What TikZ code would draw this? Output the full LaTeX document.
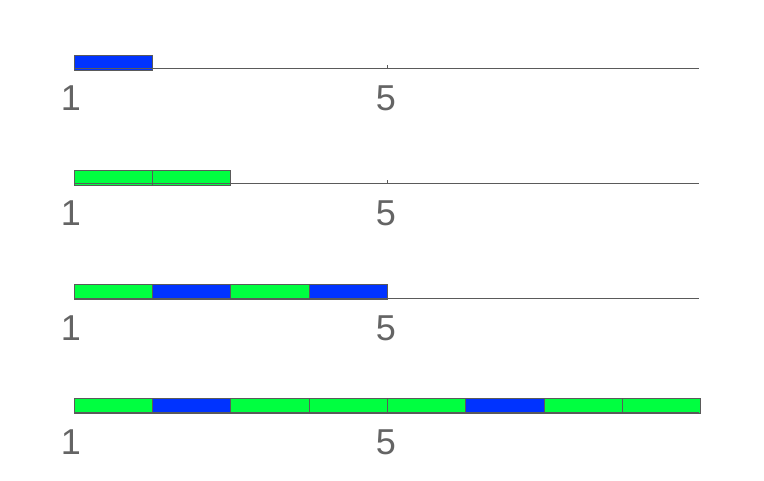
\documentclass[tikz,border=0pt]{standalone}
\usepackage{fontspec}
\setmainfont{Liberation Sans}
\definecolor{bargreen}{RGB}{0,255,64}
\definecolor{barblue}{RGB}{0,51,255}
\definecolor{axgray}{RGB}{90,90,90}
\definecolor{txtgray}{RGB}{100,100,100}
\tikzset{
  gbar/.style={draw=axgray, line width=0.9pt, fill=bargreen},
  bbar/.style={draw=axgray, line width=0.9pt, fill=barblue},
  axline/.style={draw=axgray, line width=1pt},
  ticklabel/.style={text=txtgray, font=\fontsize{36}{36}\selectfont, inner sep=0pt, anchor=base}
}
\begin{document}
\begin{tikzpicture}[x=1pt,y=-1pt]
\useasboundingbox[fill=white] (0,0) rectangle (764,480);
% row 1
\draw[bbar] (74,55) rectangle (152,70);
% row 2
\draw[gbar] (74,170) rectangle (152,185);
\draw[gbar] (152,170) rectangle (230.5,185);
% row 3
\draw[gbar] (74,284) rectangle (152,299);
\draw[bbar] (152,284) rectangle (230.5,299);
\draw[gbar] (230.5,284) rectangle (309,299);
\draw[bbar] (309,284) rectangle (387,299);
% row 4
\draw[gbar] (74,398) rectangle (152,413.5);
\draw[bbar] (152,398) rectangle (230.5,413.5);
\draw[gbar] (230.5,398) rectangle (309,413.5);
\draw[gbar] (309,398) rectangle (387,413.5);
\draw[gbar] (387,398) rectangle (465.5,413.5);
\draw[bbar] (465.5,398) rectangle (544,413.5);
\draw[gbar] (544,398) rectangle (622,413.5);
\draw[gbar] (622,398) rectangle (700,413.5);
% axes on top
\foreach \row/\ay in {1/68, 2/183, 3/298, 4/412}{
  \draw[axline] (74,\ay) -- (699,\ay);
  \draw[axline] (387,\ay) -- (387,\ay-3);
  \node[ticklabel] (one\row) at (71,\ay+42) {1};
  \node[ticklabel] (five\row) at (386,\ay+42) {5};
}
\end{tikzpicture}
\end{document}
